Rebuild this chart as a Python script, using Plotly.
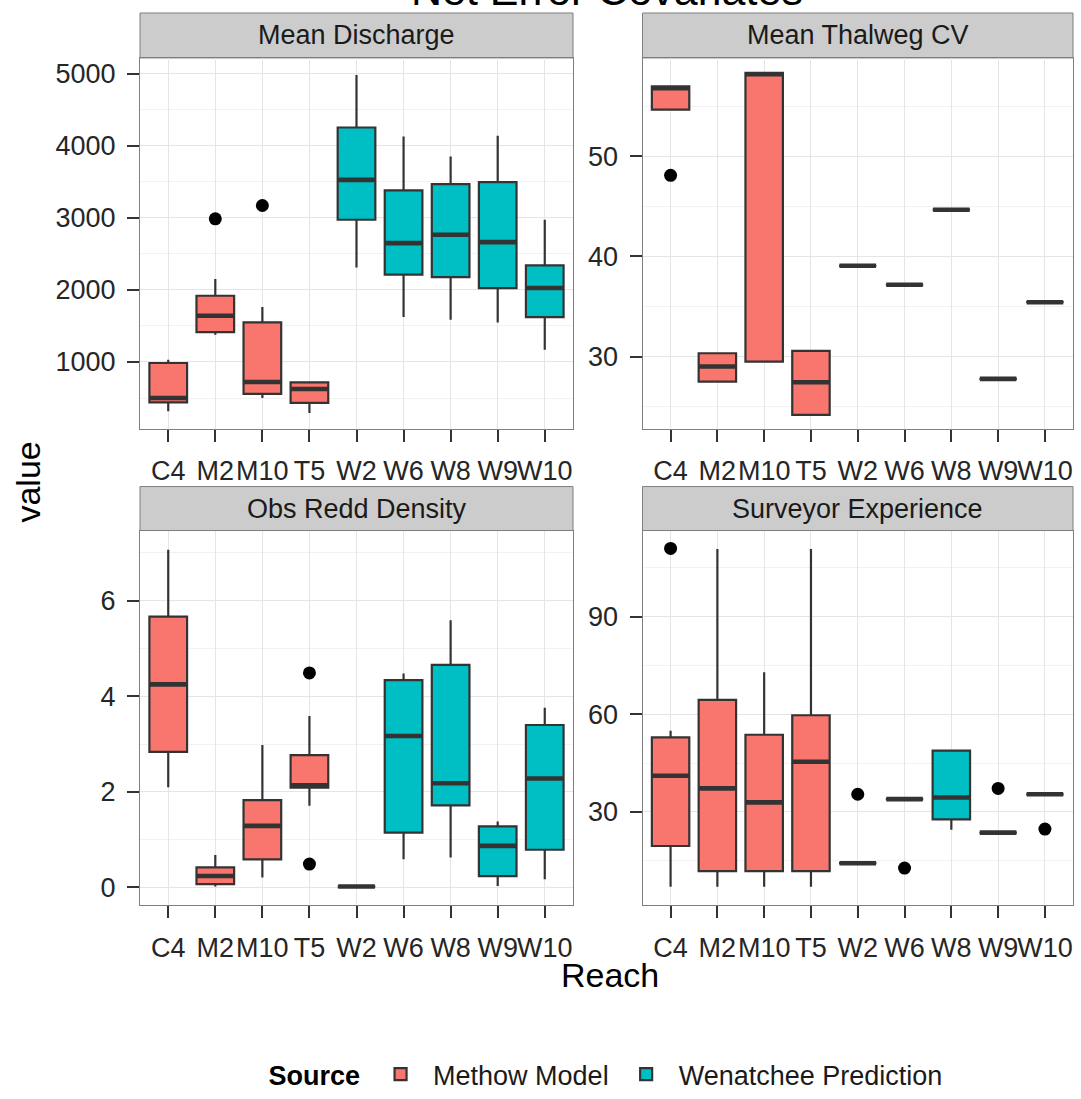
import plotly.graph_objects as go

# ---------------- data ----------------
reaches = ['C4', 'M2', 'M10', 'T5', 'W2', 'W6', 'W8', 'W9', 'W10']
methow_reach = ['C4', 'M2', 'M10', 'T5']
wen_reach = ['W2', 'W6', 'W8', 'W9', 'W10']
panel_titles = ['Mean Discharge', 'Mean Thalweg CV', 'Obs Redd Density', 'Surveyor Experience']

# box statistics per reach: (lower whisker, q1, median, q3, upper whisker)
discharge_methow = [(316, 440, 500, 986, 1032), (1379, 1416, 1643, 1920, 2151),
                    (500, 556, 723, 1550, 1763), (292, 431, 625, 718, 732)]
discharge_wen = [(2313, 2975, 3529, 4256, 4986), (1624, 2212, 2651, 3382, 4131),
                 (1587, 2179, 2766, 3469, 3853), (1550, 2027, 2665, 3497, 4140),
                 (1171, 1624, 2027, 2341, 2975)]
discharge_out_reach = ['M2', 'M10']
discharge_out_val = [2988, 3173]

thalweg_methow = [(54.67, 54.67, 56.8, 57.0, 57.0), (27.5, 27.5, 29.0, 30.33, 30.33),
                  (29.5, 29.5, 58.2, 58.33, 58.33), (24.17, 24.17, 27.43, 30.57, 30.57)]
thalweg_wen = [(39.07,) * 5, (37.17,) * 5, (44.67,) * 5, (27.77,) * 5, (35.43,) * 5]
thalweg_out_reach = ['C4']
thalweg_out_val = [48.1]

redd_methow = [(2.10, 2.84, 4.25, 5.67, 7.07), (0.02, 0.07, 0.24, 0.42, 0.68),
               (0.21, 0.59, 1.29, 1.83, 2.98), (1.71, 2.09, 2.14, 2.77, 3.59)]
redd_wen = [(0.02,) * 5, (0.59, 1.15, 3.17, 4.34, 4.48), (0.63, 1.72, 2.18, 4.66, 5.59),
            (0.03, 0.24, 0.87, 1.28, 1.38), (0.17, 0.79, 2.28, 3.40, 3.76)]
redd_out_reach = ['T5', 'T5']
redd_out_val = [4.49, 0.49]

surveyor_methow = [(7.0, 19.5, 41.1, 52.9, 54.9), (7.0, 11.8, 37.2, 64.4, 110.8),
                   (7.0, 11.8, 32.9, 53.7, 72.9), (7.0, 11.8, 45.4, 59.7, 110.8)]
surveyor_wen = [(14.2,) * 5, (33.9,) * 5, (24.5, 27.7, 34.4, 48.8, 48.8),
                (23.6,) * 5, (35.4,) * 5]
surveyor_out_reach = ['C4', 'W2', 'W6', 'W9', 'W10']
surveyor_out_val = [111.0, 35.4, 12.7, 37.2, 24.7]

y_ticks = [[1000, 2000, 3000, 4000, 5000], [30, 40, 50], [0, 2, 4, 6], [30, 60, 90]]
y_minor = [500, 5, 1, 15]
y_ranges = [[75, 5222], [22.8, 59.83], [-0.37, 7.47], [1.3, 116.5]]

# ---------------- style / layout ----------------
W, H = 1081, 1099
FONT = 'Liberation Sans, Arial, sans-serif'
COL_M = '#F8766D'
COL_W = '#00BFC4'
LINE = '#333333'

def px_x(p):
    return p / W

def px_y(p):
    return 1 - p / H

x_doms = [[px_x(140), px_x(573)], [px_x(642.5), px_x(1073)]]
y_doms = [[px_y(429), px_y(58)], [px_y(906), px_y(531)]]
strip_y = [[px_y(58), px_y(13)], [px_y(531), px_y(487)]]

fig = go.Figure()

panels = [
    (discharge_methow, discharge_wen, discharge_out_reach, discharge_out_val),
    (thalweg_methow, thalweg_wen, thalweg_out_reach, thalweg_out_val),
    (redd_methow, redd_wen, redd_out_reach, redd_out_val),
    (surveyor_methow, surveyor_wen, surveyor_out_reach, surveyor_out_val),
]

shapes = []
annotations = []
for i, (m_stats, w_stats, o_reach, o_val) in enumerate(panels):
    n = '' if i == 0 else str(i + 1)
    xa, ya = 'x' + n, 'y' + n
    for name, reach, stats, col in [('Methow Model', methow_reach, m_stats, COL_M),
                                     ('Wenatchee Prediction', wen_reach, w_stats, COL_W)]:
        fig.add_trace(go.Box(
            x=reach,
            lowerfence=[s[0] for s in stats],
            q1=[s[1] for s in stats],
            median=[s[2] for s in stats],
            q3=[s[3] for s in stats],
            upperfence=[s[4] for s in stats],
            name=name, legendgroup=name, showlegend=(i == 0),
            fillcolor=col, line=dict(color=LINE, width=2.2),
            whiskerwidth=0, width=0.8, boxpoints=False,
            xaxis=xa, yaxis=ya, hoverinfo='skip',
        ))
        # thick median bar (ggplot's fattened median)
        meds = [s[2] for s in stats]
        fig.add_trace(go.Box(
            x=reach, lowerfence=meds, q1=meds, median=meds, q3=meds, upperfence=meds,
            name=name, legendgroup=name, showlegend=False,
            fillcolor='rgba(0,0,0,0)', line=dict(color=LINE, width=4.6),
            whiskerwidth=0, width=0.78, boxpoints=False,
            xaxis=xa, yaxis=ya, hoverinfo='skip',
        ))
    fig.add_trace(go.Scatter(
        x=o_reach, y=o_val, mode='markers',
        marker=dict(color='black', size=13),
        showlegend=False, xaxis=xa, yaxis=ya, hoverinfo='skip',
    ))

    col_i, row_i = i % 2, i // 2
    xdom, ydom = x_doms[col_i], y_doms[row_i]
    axis_common = dict(
        showline=True, mirror=True, linecolor='#7f7f7f', linewidth=1,
        ticks='outside', ticklen=12, tickwidth=1.5, tickcolor=LINE,
        tickfont=dict(family=FONT, size=27, color='#262626'),
        showgrid=True, gridcolor='#e5e5e5', gridwidth=1.2, zeroline=False,
        ticklabelstandoff=6,
    )
    fig.layout['xaxis' + n] = dict(
        domain=xdom, anchor=ya, type='category',
        categoryorder='array', categoryarray=reaches, tickangle=0,
        range=[-0.6, 8.6], **axis_common)
    fig.layout['yaxis' + n] = dict(
        domain=ydom, anchor=xa, range=y_ranges[i],
        tickvals=y_ticks[i], ticktext=[str(v) for v in y_ticks[i]],
        minor=dict(dtick=y_minor[i], tick0=0, showgrid=True, gridcolor='#f2f2f2', ticks=''),
        **axis_common)

    sy = strip_y[row_i]
    shapes.append(dict(type='rect', xref='paper', yref='paper',
                       x0=xdom[0], x1=xdom[1], y0=sy[0], y1=sy[1],
                       fillcolor='#cccccc', line=dict(color='#7f7f7f', width=1), layer='below'))
    annotations.append(dict(text=panel_titles[i], xref='paper', yref='paper',
                            x=(xdom[0] + xdom[1]) / 2, y=(sy[0] + sy[1]) / 2,
                            xanchor='center', yanchor='middle', showarrow=False,
                            font=dict(family=FONT, size=27, color='#1a1a1a')))

annotations += [
    dict(text='Net Error Covariates', xref='paper', yref='paper', x=px_x(607), y=px_y(-10),
         xanchor='center', yanchor='middle', showarrow=False,
         font=dict(family=FONT, size=43, color='black')),
    dict(text='value', xref='paper', yref='paper', x=px_x(28), y=px_y(483),
         xanchor='center', yanchor='middle', showarrow=False, textangle=-90,
         font=dict(family=FONT, size=34, color='black')),
    dict(text='Reach', xref='paper', yref='paper', x=px_x(610), y=px_y(976),
         xanchor='center', yanchor='middle', showarrow=False,
         font=dict(family=FONT, size=34, color='black')),
]

fig.update_layout(
    width=W, height=H,
    margin=dict(l=0, r=0, t=0, b=0),
    paper_bgcolor='white', plot_bgcolor='white',
    boxmode='overlay',
    shapes=shapes, annotations=annotations,
    showlegend=True,
    legend=dict(orientation='h', x=px_x(607), xanchor='center', y=px_y(1075), yanchor='middle',
                title=dict(text='<b>Source</b>', side='left',
                           font=dict(family=FONT, size=27, color='black')),
                font=dict(family=FONT, size=27, color='#1a1a1a'),
                itemwidth=55,
                bgcolor='rgba(0,0,0,0)'),
    font=dict(family=FONT),
)

fig.write_html('out.html', config={'displayModeBar': False},
               post_script="document.body.style.margin='0';")
